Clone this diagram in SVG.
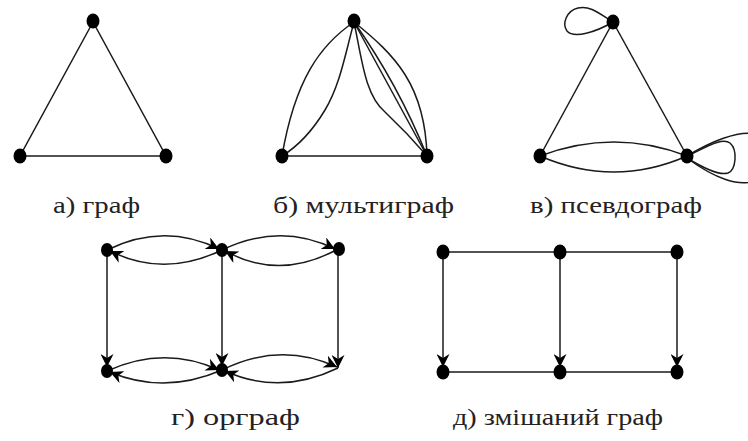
<svg xmlns="http://www.w3.org/2000/svg" width="748" height="441" viewBox="0 0 748 441">
<style>
.e{fill:none;stroke:#1a1a1a;stroke-width:1.5}
.a{marker-end:url(#arr)}
.n{fill:#000}
.t{font-size:23px;fill:#222}
</style>
<defs>
<marker id="arr" viewBox="0 0 10 10" refX="10" refY="5" markerWidth="13" markerHeight="13" markerUnits="userSpaceOnUse" orient="auto">
<path d="M0,0 L10,5 L0,10 L3,5 z" fill="#000"/>
</marker>
</defs>
<rect width="748" height="441" fill="#fff"/>
<g id="connectors">
<path class="e" d="M93,22 L20,156 L166,156 Z"/>
<path class="e" d="M282,156 L427,156"/>
<path class="e" d="M354,22 C320,45 295,80 282,156"/>
<path class="e" d="M354,22 C345,55 340,85 325,110 C310,135 295,148 282,156"/>
<path class="e" d="M354,22 C362,60 365,95 385,112 C402,128 415,142 427,156"/>
<path class="e" d="M354,22 L427,156"/>
<path class="e" d="M354,22 Q398,84 427,156"/>
<path class="e" d="M354,22 C395,55 425,85 427,156"/>
<path class="e" d="M613,22 L540,156"/>
<path class="e" d="M613,22 L687,156"/>
<path class="e" d="M540,156 Q614,128 687,156"/>
<path class="e" d="M540,156 Q614,188 687,156"/>
<path class="e" d="M613,22 C600,14 590,5 578,8 C566,11 562,24 567,31 C574,39 596,32 613,22"/>
<path class="e" d="M687,156 C705,148 722,137 730,143 C738,150 736,170 728,173 C718,176 700,166 687,158"/>
<path class="e" d="M687,156 C710,142 738,130 756,134 L756,180 C740,188 714,178 687,158"/>
<path class="e a" d="M107,250 L107,367"/>
<path class="e a" d="M222,250 L222,366"/>
<path class="e a" d="M338,249 L338,368"/>
<path class="e a" d="M107,250 Q164,222 219,249"/>
<path class="e a" d="M222,250 Q164,278 110,251"/>
<path class="e a" d="M222,250 Q280,222 335,249"/>
<path class="e a" d="M338,249 Q280,281 225,251"/>
<path class="e a" d="M107,371 Q164,345 219,370"/>
<path class="e a" d="M222,370 Q164,395 110,372"/>
<path class="e a" d="M222,370 Q280,341 337,367"/>
<path class="e a" d="M338,368 Q280,396 225,371"/>
<path class="e" d="M443,252 L677,252"/>
<path class="e" d="M443,372 L677,372"/>
<path class="e a" d="M443,252 L443,367"/>
<path class="e a" d="M560,252 L560,367"/>
<path class="e a" d="M677,252 L677,367"/>
</g>
<g id="a-top"><ellipse class="n" cx="93" cy="21" rx="6.5" ry="7.5"/></g>
<g id="a-left"><ellipse class="n" cx="20" cy="156" rx="6.5" ry="7.5"/></g>
<g id="a-right"><ellipse class="n" cx="166" cy="156" rx="6.5" ry="7.5"/></g>
<g id="b-top"><ellipse class="n" cx="354" cy="21" rx="6.5" ry="7.5"/></g>
<g id="b-left"><ellipse class="n" cx="282" cy="156" rx="6.5" ry="7.5"/></g>
<g id="b-right"><ellipse class="n" cx="427" cy="156" rx="6.5" ry="7.5"/></g>
<g id="c-top"><ellipse class="n" cx="613" cy="22" rx="6.5" ry="7.5"/></g>
<g id="c-left"><ellipse class="n" cx="540" cy="156" rx="6.5" ry="7.5"/></g>
<g id="c-right"><ellipse class="n" cx="687" cy="156" rx="6.5" ry="7.5"/></g>
<g id="d-tl"><ellipse class="n" cx="107" cy="250" rx="6" ry="7"/></g>
<g id="d-tm"><ellipse class="n" cx="222" cy="250" rx="6" ry="7"/></g>
<g id="d-tr"><ellipse class="n" cx="339" cy="249" rx="6" ry="7"/></g>
<g id="d-bl"><ellipse class="n" cx="107" cy="371" rx="6" ry="7"/></g>
<g id="d-bm"><ellipse class="n" cx="222" cy="370" rx="6" ry="7"/></g>
<g id="e-tl"><ellipse class="n" cx="443" cy="252" rx="6.5" ry="7.5"/></g>
<g id="e-tm"><ellipse class="n" cx="560" cy="252" rx="6.5" ry="7.5"/></g>
<g id="e-tr"><ellipse class="n" cx="677" cy="252" rx="6.5" ry="7.5"/></g>
<g id="e-bl"><ellipse class="n" cx="443" cy="372" rx="6.5" ry="7.5"/></g>
<g id="e-bm"><ellipse class="n" cx="560" cy="372" rx="6.5" ry="7.5"/></g>
<g id="e-br"><ellipse class="n" cx="677" cy="372" rx="6.5" ry="7.5"/></g>
<g id="labels" font-family="'Liberation Serif', serif">
<text class="t" x="53" y="213" textLength="87" lengthAdjust="spacingAndGlyphs">а) граф</text>
<text class="t" x="273" y="213" textLength="181" lengthAdjust="spacingAndGlyphs">б) мультиграф</text>
<text class="t" x="530" y="213" textLength="172" lengthAdjust="spacingAndGlyphs">в) псевдограф</text>
<text class="t" x="171" y="425" textLength="129" lengthAdjust="spacingAndGlyphs">г) орграф</text>
<text class="t" x="453" y="425" textLength="210" lengthAdjust="spacingAndGlyphs">д) змішаний граф</text>
</g>
</svg>
